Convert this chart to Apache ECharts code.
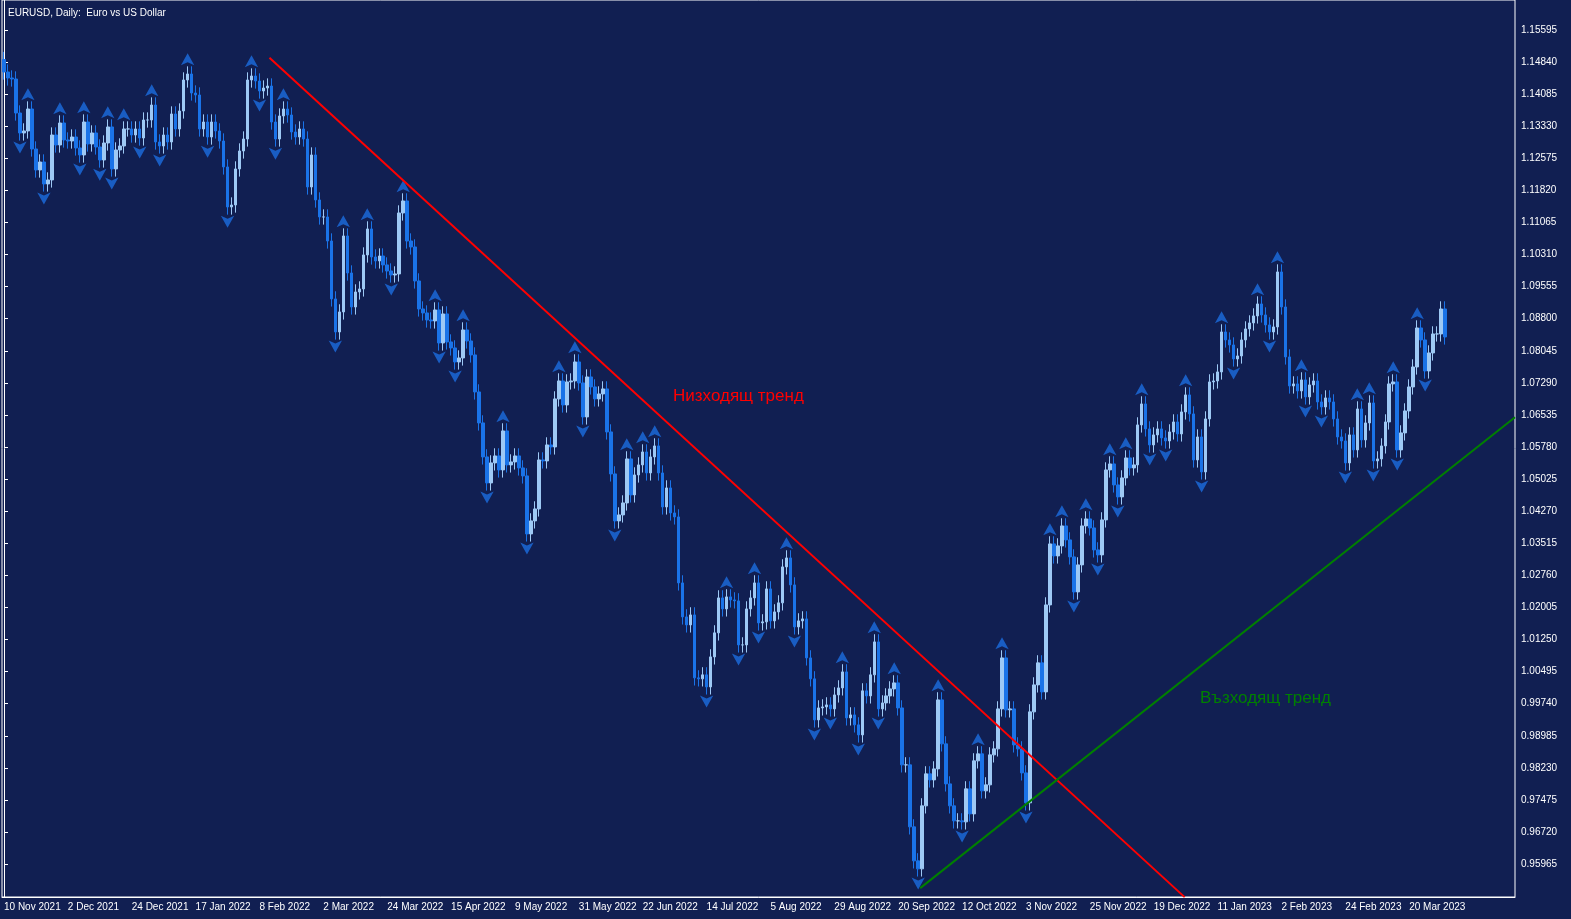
<!DOCTYPE html>
<html><head><meta charset="utf-8">
<script src="https://cdn.jsdelivr.net/npm/echarts@6/dist/echarts.min.js"></script>
<style>html,body{margin:0;padding:0;background:#111f52;}#c{width:1571px;height:919px;}</style>
</head><body><div id="c"></div>
<script>
const closes = [
1.14607,1.14466,1.14442,1.13642,1.13172,1.13219,1.13736,1.12795,1.12301,1.12489,
1.11972,1.12066,1.13124,1.12889,1.13407,1.13007,1.12983,1.13077,1.12819,1.12654,
1.13430,1.12913,1.13172,1.12842,1.12536,1.12936,1.13313,1.12325,1.12772,1.12866,
1.13266,1.13266,1.13124,1.13266,1.13054,1.13477,1.13477,1.13830,1.12960,1.12866,
1.13124,1.12960,1.13619,1.13266,1.13689,1.14419,1.14560,1.14113,1.14066,1.13266,
1.13430,1.13077,1.13430,1.13219,1.12983,1.12372,1.11430,1.11477,1.12325,1.12748,
1.13030,1.14419,1.14513,1.14395,1.14160,1.14230,1.14277,1.13430,1.13030,1.13572,
1.13736,1.13595,1.13195,1.13077,1.13266,1.13030,1.11901,1.12654,1.11595,1.11195,
1.11195,1.10630,1.09266,1.08489,1.08960,1.10748,1.09877,1.09077,1.09430,1.09501,
1.10301,1.10913,1.10254,1.10160,1.10277,1.10066,1.09924,1.09830,1.09854,1.11289,
1.11572,1.10630,1.10489,1.09689,1.09030,1.08936,1.08771,1.08748,1.09007,1.08230,
1.08913,1.08254,1.08113,1.07783,1.07877,1.08536,1.08277,1.07948,1.07077,1.06348,
1.05548,1.04936,1.05407,1.05571,1.05242,1.06160,1.05360,1.05430,1.05571,1.05289,
1.05101,1.03736,1.04042,1.04324,1.05477,1.05454,1.05830,1.05783,1.06913,1.07336,
1.06771,1.07313,1.07336,1.07783,1.07289,1.06489,1.07430,1.07195,1.06913,1.07030,
1.07148,1.06136,1.05148,1.04042,1.04183,1.04465,1.05501,1.04654,1.05124,1.05360,
1.05665,1.05171,1.05548,1.05807,1.05171,1.04371,1.04818,1.04230,1.04136,1.02583,
1.01783,1.01595,1.01830,1.00348,1.00325,1.00419,1.00136,1.00842,1.01407,1.02230,
1.01971,1.02254,1.02183,1.02160,1.01124,1.01124,1.01971,1.02230,1.02583,1.01642,
1.01666,1.02442,1.01689,1.01901,1.02113,1.02960,1.03171,1.02536,1.01548,1.01689,
1.01736,1.00818,1.00325,0.99359,0.99641,0.99665,0.99712,0.99618,0.99947,1.00112,
1.00489,0.99406,0.99477,0.99242,0.99006,1.00042,0.99924,1.00419,1.01195,0.99618,
0.99759,0.99924,1.00089,1.00230,0.99641,0.98301,0.98301,0.96842,0.96042,0.95853,
0.97336,0.98089,0.97947,0.98206,0.99830,0.98795,0.97853,0.97336,0.96983,0.96983,
0.96959,0.97736,0.97147,0.98395,0.98560,0.97689,0.97830,0.98536,0.98677,0.99618,
1.00818,0.99595,0.99618,0.98771,0.98677,0.98112,0.97407,0.99548,1.00183,1.00701,
1.00018,1.02065,1.03501,1.03218,1.03454,1.03924,1.03595,1.03195,1.02371,1.03007,
1.03924,1.04089,1.03877,1.03360,1.03242,1.04066,1.05242,1.05383,1.04889,1.04607,
1.05054,1.05524,1.05289,1.05360,1.06301,1.06795,1.06207,1.05830,1.06066,1.06207,
1.05995,1.05924,1.06136,1.06371,1.06089,1.06607,1.07007,1.06560,1.05477,1.06018,
1.05195,1.06442,1.07313,1.07336,1.07548,1.08489,1.08301,1.08183,1.07854,1.07924,
1.08301,1.08560,1.08701,1.08866,1.09148,1.08889,1.08654,1.08489,1.08607,1.09901,
1.09077,1.07901,1.07218,1.07266,1.07101,1.07360,1.06960,1.07242,1.07336,1.06842,
1.06724,1.06936,1.06842,1.06442,1.06018,1.05924,1.05407,1.06066,1.05713,1.06677,
1.05948,1.06348,1.06818,1.05454,1.05501,1.05807,1.06371,1.07266,1.07313,1.05713,
1.06113,1.06630,1.07195,1.07665,1.08583,1.08301,1.07571,1.07995,1.08442,1.08442,
1.09030,1.08371];
const firstOpen = 1.14900;
const priceTicks = [0.95965,0.96720,0.97475,0.98230,0.98985,0.99740,1.00495,1.01250,1.02005,1.02760,1.03515,1.04270,1.05025,1.05780,1.06535,1.07290,1.08045,1.08800,1.09555,1.10310,1.11065,1.11820,1.12575,1.13330,1.14085,1.14840,1.15595];
const downTrend = [[66.5,1.14940],[295.75,0.95188]];
const upTrend = [[229.5,0.95400],[378.5,1.06481]];
const wick = 0.0018;
const totalBars = 379;
const lastLabelBar = 360;
const skipDays = ['2022-12-26'];
const months = ['Jan','Feb','Mar','Apr','May','Jun','Jul','Aug','Sep','Oct','Nov','Dec'];

const cats = [];
let d = new Date(Date.UTC(2021,10,10));
while (cats.length < totalBars) {
  const wd = d.getUTCDay();
  const iso = d.toISOString().slice(0,10);
  if (wd !== 0 && wd !== 6 && skipDays.indexOf(iso) < 0) cats.push(d.getUTCDate()+' '+months[d.getUTCMonth()]+' '+d.getUTCFullYear());
  d = new Date(d.getTime()+86400000);
}
const ohlc = closes.map((c,i)=>{
  const o = i===0?firstOpen:closes[i-1];
  return [o,c,Math.min(o,c)-wick,Math.max(o,c)+wick];
});
const ups=[],downs=[];
for(let i=2;i<ohlc.length-2;i++){
  const h=ohlc[i][3],l=ohlc[i][2];
  if(h>ohlc[i-1][3]&&h>ohlc[i-2][3]&&h>=ohlc[i+1][3]&&h>=ohlc[i+2][3]) ups.push([cats[i],h]);
  if(l<ohlc[i-1][2]&&l<ohlc[i-2][2]&&l<=ohlc[i+1][2]&&l<=ohlc[i+2][2]) downs.push([cats[i],l]);
}
const chart = echarts.init(document.getElementById('c'));
const white='#ffffff';
const fam='"Liberation Sans", Arial, sans-serif';
chart.setOption({
  backgroundColor:'#111f52',
  animation:false,
  title:{text:'EURUSD, Daily:  Euro vs US Dollar',left:3,top:3,textStyle:{color:white,fontSize:10,fontWeight:'normal',fontFamily:fam}},
  grid:{left:2,right:56,top:0,bottom:22,show:true,borderColor:white,borderWidth:1},
  xAxis:[{type:'category',data:cats,boundaryGap:true,
    axisLine:{lineStyle:{color:white}},
    axisTick:{interval:15,length:4,lineStyle:{color:white},alignWithLabel:true},
    axisLabel:{interval:15,color:white,fontSize:10,fontFamily:fam,align:'left',margin:5,
      formatter:(v,i)=>i>lastLabelBar?'':v},
    splitLine:{show:false}},
   {type:'value',min:-0.5,max:totalBars-0.5,show:false}],
  yAxis:{type:'value',position:'right',min:0.95191,max:1.16301,scale:true,
    axisLine:{show:true,lineStyle:{color:white}},
    axisTick:{show:true,length:4,lineStyle:{color:white},customValues:priceTicks},
    axisLabel:{color:white,fontSize:10,fontFamily:fam,margin:6,customValues:priceTicks,formatter:v=>v.toFixed(5)},
    splitLine:{show:false}},
  series:[
    {type:'candlestick',data:ohlc,barWidth:3,
      itemStyle:{color:'#9ec9f5',color0:'#1a73e8',borderColor:'#9ec9f5',borderColor0:'#1a73e8',borderWidth:1}},
    {type:'scatter',data:ups,symbol:'arrow',symbolSize:[10,12],symbolOffset:[0,-13],itemStyle:{color:'#1b6de0'},z:3},
    {type:'scatter',data:downs,symbol:'arrow',symbolRotate:180,symbolSize:[10,12],symbolOffset:[0,13],itemStyle:{color:'#1b6de0'},z:3},
    {type:'line',xAxisIndex:1,data:downTrend,symbol:'none',lineStyle:{color:'#ff0000',width:2},z:4},
    {type:'line',xAxisIndex:1,data:upTrend,symbol:'none',lineStyle:{color:'#008000',width:2},z:4}
  ],
  graphic:[
    {type:'text',left:673,top:388,style:{text:'Низходящ тренд',fill:'#ff0000',font:'17px "Liberation Sans", Arial'}},
    {type:'text',left:1200,top:690,style:{text:'Възходящ тренд',fill:'#008000',font:'17px "Liberation Sans", Arial'}}
  ]
});
</script></body></html>
